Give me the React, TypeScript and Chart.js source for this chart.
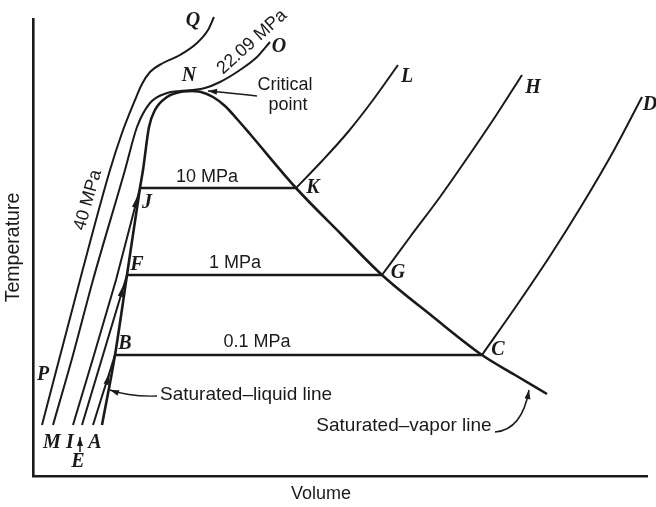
import React, { useEffect, useRef } from "react";
import { Chart, registerables } from "chart.js";

Chart.register(...registerables);

type Pt = [number, number];

// Schematic T–v diagram of water. x = specific volume, y = temperature (arbitrary units).
// Compressed-liquid segments (left of the saturated-liquid line)
const liquid40MPa: Pt[] = [[9, 51], [47, 196], [77, 306], [89, 343], [102, 376], [109, 392], [117, 404], [130, 413], [147, 421], [164, 433], [175, 446], [181, 459]];
const liquidCritical: Pt[] = [[20, 51], [40, 121], [60, 196], [92, 306], [104, 349], [117, 373], [134, 383], [147, 385], [159, 386], [172, 388], [187, 394], [207, 406], [224, 419], [237, 434]];
const liquid10MPa: Pt[] = [[40, 51], [61, 121], [83, 196], [107, 288]];
const liquid1MPa: Pt[] = [[49, 51], [70, 121], [94, 201]];
const liquid01MPa: Pt[] = [[60, 51], [82, 121]];

// Saturation dome
const satLiquid: Pt[] = [[69, 51], [82, 121], [94, 201], [107, 288], [110, 306], [116, 349], [122, 366], [134, 379], [147, 384], [159, 385]];
const satVapor: Pt[] = [[159, 385], [168, 384], [180, 379], [192, 370], [204, 357], [217, 342], [263, 288], [307, 243], [349, 201], [399, 160], [449, 121], [482, 101], [514, 82]];

// Two-phase (horizontal) segments
const mix10MPa: Pt[] = [[107, 288], [263, 288]];
const mix1MPa: Pt[] = [[94, 201], [349, 201]];
const mix01MPa: Pt[] = [[82, 121], [449, 121]];

// Superheated-vapor segments
const vapor10MPa: Pt[] = [[263, 288], [289, 315], [315, 344], [340, 376], [365, 411]];
const vapor1MPa: Pt[] = [[349, 201], [377, 239], [407, 279], [437, 322], [464, 362], [489, 401]];
const vapor01MPa: Pt[] = [[449, 121], [484, 171], [517, 220], [549, 271], [580, 324], [609, 379]];

const letterLabels: { text: string; at: Pt }[] = [
  { text: "Q", at: [160, 455] }, { text: "N", at: [156, 400] }, { text: "O", at: [246, 429] },
  { text: "L", at: [374, 399] }, { text: "H", at: [500, 388] }, { text: "D", at: [617, 371] },
  { text: "K", at: [280, 288] }, { text: "G", at: [365, 203] }, { text: "C", at: [465, 126] },
  { text: "J", at: [114, 273] }, { text: "F", at: [104, 211] }, { text: "B", at: [92, 132] },
  { text: "P", at: [10, 101] }, { text: "M", at: [19, 33] }, { text: "I", at: [37, 33] },
  { text: "A", at: [62, 33] }, { text: "E", at: [45, 14] },
];

const textLabels: { text: string; at: Pt; rot: number; align: CanvasTextAlign; size: number }[] = [
  { text: "10 MPa", at: [174, 299], rot: 0, align: "center", size: 18 },
  { text: "1 MPa", at: [202, 213], rot: 0, align: "center", size: 18 },
  { text: "0.1 MPa", at: [224, 134], rot: 0, align: "center", size: 18 },
  { text: "40 MPa", at: [55, 276], rot: -74, align: "center", size: 18 },
  { text: "22.09 MPa", at: [219, 434], rot: -42, align: "center", size: 18 },
  { text: "Critical", at: [252, 391], rot: 0, align: "center", size: 18 },
  { text: "point", at: [255, 371], rot: 0, align: "center", size: 18 },
  { text: "Saturated–liquid line", at: [127, 81], rot: 0, align: "left", size: 19 },
  { text: "Saturated–vapor line", at: [371, 50], rot: 0, align: "center", size: 19 },
];

// curved pointer arrows: start, control, tip
const pointerArrows: [Pt, Pt, Pt][] = [
  [[224, 380], [197, 383], [175, 385]],
  [[124, 80], [97, 79], [77, 86]],
  [[462, 44], [489, 46], [496, 86]],
  [[47, 24], [47, 30], [47, 39]],
];

// small flow arrows on the compressed-liquid lines: line, tip
const flowArrows: { line: Pt[]; tip: Pt }[] = [
  { line: liquid10MPa, tip: [105, 281] },
  { line: liquid1MPa, tip: [91, 192] },
  { line: liquid01MPa, tip: [77, 104] },
];

const xTitle = { text: "Volume", at: [288, -18] as Pt, size: 18 };
const yTitle = { text: "Temperature", at: [-19, 228.5] as Pt, size: 19.5 };

const INK = "#1a1a1a";
const sans = (s: number) => `${s}px "Liberation Sans", Arial, sans-serif`;
const SERIF = 'italic bold 20px "Liberation Serif", "Times New Roman", serif';

function head(ctx: CanvasRenderingContext2D, tx: number, ty: number, fx: number, fy: number, len: number, half: number) {
  const a = Math.atan2(ty - fy, tx - fx);
  const bx = tx - len * Math.cos(a);
  const by = ty - len * Math.sin(a);
  ctx.beginPath();
  ctx.moveTo(tx, ty);
  ctx.lineTo(bx + half * Math.sin(a), by - half * Math.cos(a));
  ctx.lineTo(bx - half * Math.sin(a), by + half * Math.cos(a));
  ctx.closePath();
  ctx.fill();
}

const annotate = {
  id: "annotate",
  afterDatasetsDraw(chart: any) {
    const { ctx } = chart;
    const xs = chart.scales.x;
    const ys = chart.scales.y;
    const px = (p: Pt): [number, number] => [xs.getPixelForValue(p[0]), ys.getPixelForValue(p[1])];
    ctx.save();
    ctx.fillStyle = INK;
    ctx.strokeStyle = INK;
    ctx.textBaseline = "middle";

    ctx.font = SERIF;
    ctx.textAlign = "center";
    for (const l of letterLabels) {
      const [x, y] = px(l.at);
      ctx.fillText(l.text, x, y);
    }

    for (const l of textLabels) {
      const [x, y] = px(l.at);
      ctx.save();
      ctx.font = sans(l.size);
      ctx.translate(x, y);
      ctx.rotate((l.rot * Math.PI) / 180);
      ctx.textAlign = l.align;
      ctx.fillText(l.text, 0, 0);
      ctx.restore();
    }

    // axis titles
    {
      const [x, y] = px(xTitle.at);
      ctx.font = sans(xTitle.size);
      ctx.textAlign = "center";
      ctx.fillText(xTitle.text, x, y);
      const [x2, y2] = px(yTitle.at);
      ctx.save();
      ctx.font = sans(yTitle.size);
      ctx.translate(x2, y2);
      ctx.rotate(-Math.PI / 2);
      ctx.fillText(yTitle.text, 0, 0);
      ctx.restore();
    }

    ctx.lineWidth = 1.5;
    for (const [s, c, t] of pointerArrows) {
      const [sx, sy] = px(s);
      const [cx, cy] = px(c);
      const [tx, ty] = px(t);
      ctx.beginPath();
      ctx.moveTo(sx, sy);
      ctx.quadraticCurveTo(cx, cy, tx, ty);
      ctx.stroke();
      head(ctx, tx, ty, cx, cy, 9, 3);
    }

    for (const f of flowArrows) {
      const a = px(f.line[0]);
      const b = px(f.line[f.line.length - 1]);
      const [tx, ty] = px(f.tip);
      head(ctx, tx, ty, tx - (b[0] - a[0]), ty - (b[1] - a[1]), 13, 2.6);
    }
    ctx.restore();
  },
};

const lines: { pts: Pt[]; smooth: boolean; width: number }[] = [
  { pts: liquid40MPa, smooth: true, width: 2 },
  { pts: liquidCritical, smooth: true, width: 2 },
  { pts: liquid10MPa, smooth: false, width: 2 },
  { pts: liquid1MPa, smooth: false, width: 2 },
  { pts: liquid01MPa, smooth: false, width: 2 },
  { pts: satLiquid, smooth: true, width: 2.6 },
  { pts: satVapor, smooth: true, width: 2.6 },
  { pts: mix10MPa, smooth: false, width: 2.4 },
  { pts: mix1MPa, smooth: false, width: 2.4 },
  { pts: mix01MPa, smooth: false, width: 2.4 },
  { pts: vapor10MPa, smooth: true, width: 2 },
  { pts: vapor1MPa, smooth: true, width: 2 },
  { pts: vapor01MPa, smooth: true, width: 2 },
];

export default function App() {
  const ref = useRef<HTMLCanvasElement | null>(null);
  useEffect(() => {
    if (!ref.current) return;
    const chart = new Chart(ref.current, {
      type: "scatter",
      data: {
        datasets: lines.map((l, i) => ({
          label: "line" + i,
          data: l.pts.map(([x, y]) => ({ x, y })),
          showLine: true,
          borderColor: INK,
          borderWidth: l.width,
          pointRadius: 0,
          cubicInterpolationMode: l.smooth ? "monotone" : "default",
          tension: 0,
          clip: false as any,
          fill: false,
        })),
      },
      options: {
        animation: false,
        responsive: true,
        maintainAspectRatio: false,
        layout: { padding: { left: 33, right: 9, top: 19, bottom: 31 } },
        plugins: { legend: { display: false }, tooltip: { enabled: false } },
        scales: {
          x: {
            type: "linear",
            min: 0,
            max: 614,
            ticks: { display: false },
            grid: { display: false, drawTicks: false },
            border: { display: true, color: INK, width: 2.6 },
          },
          y: {
            type: "linear",
            min: 0,
            max: 457,
            ticks: { display: false },
            grid: { display: false, drawTicks: false },
            border: { display: true, color: INK, width: 2.6 },
          },
        },
      },
      plugins: [annotate],
    });
    return () => chart.destroy();
  }, []);
  return (
    <div style={{ position: "fixed", left: 0, top: 0, width: 656, height: 507, background: "#fff" }}>
      <canvas ref={ref} />
    </div>
  );
}
